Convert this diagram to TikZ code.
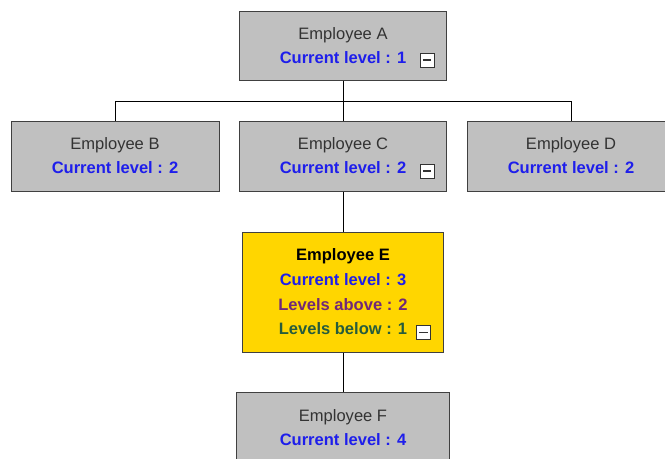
\documentclass[tikz,border=0pt]{standalone}
\usepackage{fontspec}
\setmainfont{Liberation Sans}
\definecolor{boxgray}{RGB}{192,192,192}
\definecolor{boxgold}{RGB}{255,214,0}
\definecolor{namegray}{RGB}{51,51,51}
\definecolor{lvlblue}{RGB}{30,30,235}
\definecolor{lvlpurple}{RGB}{112,40,120}
\definecolor{lvlgreen}{RGB}{38,92,60}
\tikzset{
	empbox/.style={draw=black!75, line width=0.75pt, fill=boxgray, align=center, inner sep=0pt,
		font=\fontsize{12.4}{18}\selectfont},
	togbox/.style={draw=black!80, fill=white, line width=0.6pt, minimum size=10.5pt, inner sep=0pt,
		path picture={\draw[line width=1.1pt] ([xshift=2.2pt]path picture bounding box.west) -- ([xshift=-2.2pt]path picture bounding box.east);}},
	link/.style={line width=0.75pt}
}
\newcommand{\empname}[1]{\textcolor{namegray}{#1}}
\newcommand{\curlvl}[1]{\textbf{\textcolor{lvlblue}{Current level : #1}}}
\begin{document}
\begin{tikzpicture}[x=0.75pt,y=-0.75pt]
		\useasboundingbox (0,0) rectangle (665,458);
		% Niveau 1
		\node[empbox, minimum width=155.25pt, minimum height=51.75pt] (A) at (343,45.5) {\empname{Employee A}\\\curlvl{1}};
		% Niveau 2
		\node[empbox, minimum width=156pt, minimum height=52.5pt] (B) at (115,156) {\empname{Employee B}\\\curlvl{2}};
		\node[empbox, minimum width=155.25pt, minimum height=52.5pt] (C) at (343,156) {\empname{Employee C}\\\curlvl{2}};
		\node[empbox, minimum width=156pt, minimum height=52.5pt] (D) at (571,156) {\empname{Employee D}\\\curlvl{2}};
		% Niveau 3
		\node[empbox, fill=boxgold, minimum width=150.75pt, minimum height=90pt,
			font=\fontsize{12.4}{18.5}\selectfont] (E) at (343,292)
			{\textbf{Employee E}\\\curlvl{3}\\\textbf{\textcolor{lvlpurple}{Levels above : 2}}\\\textbf{\textcolor{lvlgreen}{Levels below : 1}}};
		% Niveau 4
		\node[empbox, minimum width=159.75pt, minimum height=52.5pt] (F) at (343,427.5) {\empname{Employee F}\\\curlvl{4}};
		
		\node[togbox] (A-tog) at ([xshift=-15pt,yshift=15.4pt]A.south east) {};
		\node[togbox] (C-tog) at ([xshift=-15pt,yshift=15.4pt]C.south east) {};
		\node[togbox] (E-tog) at ([xshift=-15.4pt,yshift=15pt]E.south east) {};
		
		\coordinate (bus) at (343,101);
		\draw[link] (A.south) -- (bus);
		\draw[link] (bus) -| (B.north);
		\draw[link] (bus) -| (D.north);
		\draw[link] (bus) -- (C.north);
		\draw[link] (C.south) -- (E.north);
		\draw[link] (E.south) -- (F.north);
	\end{tikzpicture}
\end{document}
